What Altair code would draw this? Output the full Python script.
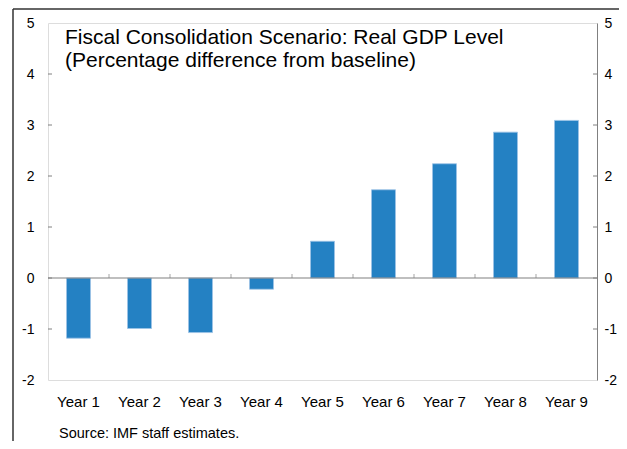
import altair as alt
import pandas as pd

years = ["Year 1", "Year 2", "Year 3", "Year 4", "Year 5", "Year 6", "Year 7", "Year 8", "Year 9"]
values = [-1.18, -0.99, -1.07, -0.22, 0.72, 1.73, 2.24, 2.86, 3.09]
y_ticks = [-2, -1, 0, 1, 2, 3, 4, 5]
title_lines = ["Fiscal Consolidation Scenario: Real GDP Level", "(Percentage difference from baseline)"]
source_text = "Source: IMF staff estimates."

W, H = 549, 357
FONT = "Liberation Sans"
GREY = "#808080"
BAR = "#2481C3"
EDGE = "#9DC3E6"

df = pd.DataFrame({"year": years, "value": values})
ticks_df = pd.DataFrame({"t": y_ticks[1:-1]})
bounds_df = pd.DataFrame({"year": years[1:]})
one = pd.DataFrame({"k": [0]})

xscale = alt.Scale(domain=years, paddingInner=0, paddingOuter=0)
yscale = alt.Scale(domain=[-2, 5], nice=False, zero=False)
xaxis = alt.Axis(labelAngle=0, ticks=False, domain=False, labelPadding=14,
                 labelFontSize=15, labelFont=FONT, labelColor="black", grid=False)

bars = alt.Chart(df).mark_bar(size=24, color=BAR, stroke=EDGE, strokeWidth=0.8).encode(
    x=alt.X("year:N", sort=years, scale=xscale, title=None, axis=xaxis),
    y=alt.Y("value:Q", scale=yscale, title=None,
            axis=alt.Axis(values=y_ticks, ticks=False, domain=False, grid=False,
                          labelPadding=14, labelFontSize=14, labelFont=FONT,
                          labelColor="black", labelExpr="'' + datum.value")),
)

zero = alt.Chart(one).mark_rule(color=GREY, strokeWidth=1.2).encode(
    y=alt.Y(datum=0, scale=yscale, axis=None)
)

bounds = alt.Chart(bounds_df).mark_tick(orient="vertical", size=4, yOffset=-2, thickness=1, color=GREY).encode(
    x=alt.X("year:N", sort=years, scale=xscale, bandPosition=0, title=None, axis=xaxis),
    y=alt.Y(datum=0, scale=yscale, axis=None),
)

left_ticks = alt.Chart(ticks_df).mark_rule(color=GREY).encode(
    x=alt.value(0), x2=alt.value(4),
    y=alt.Y("t:Q", scale=yscale, axis=None),
)

right_ticks = alt.Chart(ticks_df).mark_rule(color=GREY).encode(
    x=alt.value(W - 4), x2=alt.value(W),
    y=alt.Y("t:Q", scale=yscale, title=None,
            axis=alt.Axis(orient="right", values=y_ticks, ticks=False, domain=True,
                          domainColor=GREY, grid=False, labelPadding=7,
                          labelFontSize=14, labelFont=FONT, labelColor="black",
                          labelExpr="'' + datum.value")),
)

title = alt.Chart(one).mark_text(align="left", baseline="alphabetic", fontSize=21,
                                 font=FONT, color="black", lineHeight=23).encode(
    x=alt.value(17), y=alt.value(21), text=alt.value(title_lines)
)

source = alt.Chart(one).mark_text(align="left", baseline="alphabetic", fontSize=14.5,
                                  font=FONT, color="black").encode(
    x=alt.value(11), y=alt.value(415), text=alt.value(source_text)
)

frame_top = alt.Chart(one).mark_rule(color="#333333", strokeWidth=1.5).encode(
    x=alt.value(-35), x2=alt.value(W + 30), y=alt.value(-14)
)
frame_left = alt.Chart(one).mark_rule(color="#333333", strokeWidth=1.5).encode(
    x=alt.value(-35), y=alt.value(-14), y2=alt.value(H + 70)
)

chart = alt.layer(
    bars, zero, bounds, left_ticks, right_ticks, title, source, frame_top, frame_left
).resolve_axis(y="independent").properties(
    width=W, height=H,
    autosize=alt.AutoSizeParams(type="none"),
    padding={"left": 40, "top": 15, "right": 22, "bottom": 61},
).configure_view(stroke=EDGE, strokeWidth=1.5).configure(background="white")

chart.save("out.html", embed_options={"renderer": "svg", "actions": False})
